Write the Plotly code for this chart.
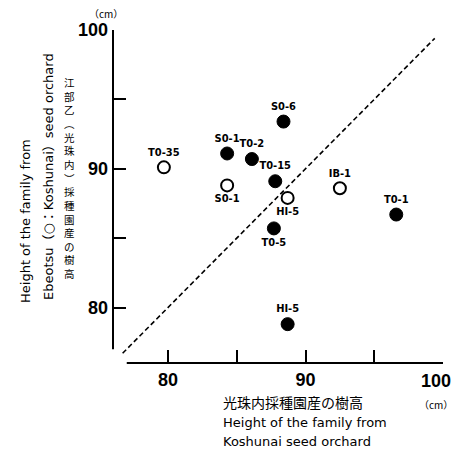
import plotly.graph_objects as go

# Families raised in the Ebeotsu orchard (filled) and the Koshunai orchard (open)
ebeotsu_names = ["S0-1", "T0-2", "S0-6", "T0-15", "T0-5", "T0-1", "HI-5"]
ebeotsu_x = [84.3, 86.1, 88.4, 87.8, 87.7, 96.6, 88.7]
ebeotsu_y = [91.1, 90.7, 93.4, 89.1, 85.7, 86.7, 78.8]
ebeotsu_pos = ["top center", "top center", "top center", "top center",
               "bottom center", "top center", "top center"]

koshunai_names = ["T0-35", "S0-1", "HI-5", "IB-1"]
koshunai_x = [79.7, 84.3, 88.7, 92.5]
koshunai_y = [90.1, 88.8, 87.9, 88.6]
koshunai_pos = ["top center", "bottom center", "bottom center", "top center"]

# 1:1 reference line
diag = [76.7, 99.4]

tick_vals = [80, 85, 90, 95, 100]
y_tick_text = ["80", "", "90", "", "100"]
x_tick_text = ["80", "", "90", "", ""]   # the last x label is placed separately
axis_lo, axis_hi = 76, 100      # plotted range on both axes
line_lo = 77                    # where the drawn axis lines begin

W, H = 452, 456
L, R, T, B = 113, 9, 30, 93
PW, PH = W - L - R, H - T - B

def px_x(px):
    return (px - L) / PW

def px_y(py):
    return (H - B - py) / PH

def val_paper(v):
    return (v - axis_lo) / (axis_hi - axis_lo)

label_font = dict(family="Liberation Sans Narrow, DejaVu Sans Condensed, Arial", size=11, color="black")

fig = go.Figure()

fig.add_trace(go.Scatter(
    x=diag, y=diag, mode="lines",
    line=dict(color="black", width=1.6, dash="5px,3px"),
    hoverinfo="skip", showlegend=False,
))

fig.add_trace(go.Scatter(
    x=ebeotsu_x, y=ebeotsu_y, mode="markers+text",
    text=[f"<b>{n}</b>" for n in ebeotsu_names], textposition=ebeotsu_pos,
    textfont=label_font,
    marker=dict(size=13, color="black", line=dict(color="black", width=1)),
    showlegend=False, cliponaxis=False,
))

fig.add_trace(go.Scatter(
    x=koshunai_x, y=koshunai_y, mode="markers+text",
    text=[f"<b>{n}</b>" for n in koshunai_names], textposition=koshunai_pos,
    textfont=label_font,
    marker=dict(size=12, color="white", line=dict(color="black", width=2)),
    showlegend=False, cliponaxis=False,
))

tick_font = dict(family="Liberation Sans, Arial", size=18, color="black")
common_axis = dict(
    range=[axis_lo, axis_hi], tickmode="array", tickvals=tick_vals,
    ticks="inside", ticklen=13, tickwidth=2, tickcolor="black",
    showline=False, showgrid=False, zeroline=False,
    tickfont=tick_font, ticklabelstandoff=4,
)

fig.update_layout(
    width=W, height=H,
    margin=dict(l=L, r=R, t=T, b=B),
    paper_bgcolor="white", plot_bgcolor="white",
    xaxis=dict(**common_axis, ticktext=[f"<b>{t}</b>" if t else "" for t in x_tick_text]),
    yaxis=dict(**common_axis, ticktext=[f"<b>{t}</b>" if t else "" for t in y_tick_text]),
    shapes=[
        dict(type="line", xref="paper", yref="paper",
             x0=0, x1=0, y0=val_paper(line_lo), y1=1,
             line=dict(color="black", width=2)),
        dict(type="line", xref="paper", yref="paper",
             x0=val_paper(line_lo), x1=1, y0=0, y1=0,
             line=dict(color="black", width=2)),
    ],
)

ann = []
small = dict(family="DejaVu Sans, Noto Sans CJK JP", size=13, color="black")
unit_font = dict(family="Noto Sans CJK JP", size=10, color="black")

# last x tick label, pulled in from the page edge
ann.append(dict(text="<b>100</b>", x=px_x(436), y=px_y(381), font=tick_font))

# unit marks
ann.append(dict(text="（cm）", x=px_x(106), y=px_y(14), font=unit_font))
ann.append(dict(text="（cm）", x=px_x(436), y=px_y(404), font=unit_font))

# x-axis title
ann.append(dict(text="光珠内採種園産の樹高", x=px_x(221), y=px_y(402), xanchor="left",
                font=dict(family="Noto Sans CJK JP", size=14, color="black")))
ann.append(dict(text="Height of the family from", x=px_x(221), y=px_y(422), xanchor="left", font=small))
ann.append(dict(text="Koshunai seed orchard", x=px_x(221), y=px_y(441), xanchor="left", font=small))

# y-axis title (rotated English lines)
ann.append(dict(text="Height of the family from", x=px_x(25), y=px_y(221), textangle=-90, font=small))
ann.append(dict(text="Ebeotsu（○：Koshunai）seed orchard", x=px_x(48), y=px_y(177), textangle=-90, font=small))

# y-axis title (vertical Japanese, one character per row)
vertical_title = "江部乙︵光珠内︶採種園産の樹高"
ann.append(dict(text="<br>".join(vertical_title), x=px_x(69), y=px_y(178),
                font=dict(family="Noto Sans CJK JP", size=10.5, color="black")))

for a in ann:
    a.setdefault("xref", "paper")
    a.setdefault("yref", "paper")
    a.setdefault("showarrow", False)
    a.setdefault("xanchor", "center")
    a.setdefault("yanchor", "middle")

fig.update_layout(annotations=ann)

fig.write_html("out.html")
